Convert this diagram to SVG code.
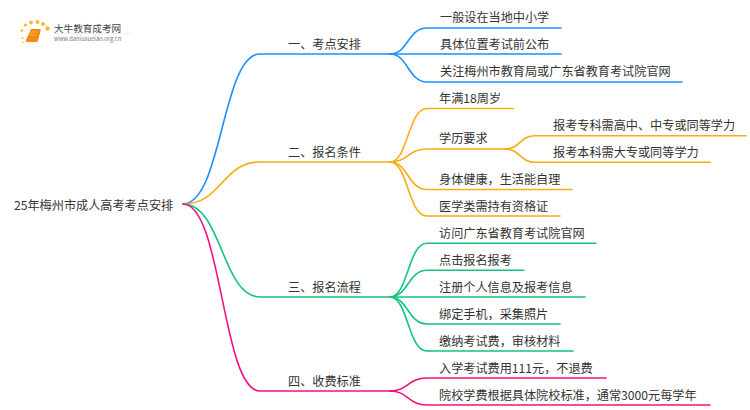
<svg xmlns="http://www.w3.org/2000/svg" width="750" height="410" viewBox="0 0 750 410">
<style>
text{font-family:"Noto Sans CJK SC","Noto Sans",sans-serif;font-size:12.15px;fill:#333}
#connectors path{fill:none;stroke-width:1.6;stroke-linecap:round}
.b{stroke:#1e90ff}.o{stroke:#fbab14}.g{stroke:#14c47c}.p{stroke:#f7107f}
</style>
<rect width="750" height="410" fill="#fff"/>
<g id="logo">
<g fill="#fbb62c"><circle cx="22.500" cy="38" r="1"/><circle cx="22" cy="30.500" r="1.300"/><circle cx="25.500" cy="25" r="1.600"/><circle cx="31" cy="22.500" r="1.900"/><circle cx="37.500" cy="22" r="2"/><circle cx="43" cy="24" r="2"/><circle cx="47.500" cy="28.500" r="2.200"/><circle cx="23.500" cy="42.500" r=".8"/></g>
<path d="M31 29h8.500q1.500 0 1.200 1.500l-2.700 10q-.4 1.500-2 1.500h-8.500q-2 0-1.500-2z" fill="#f18a12"/>
<path d="M30 32h7M29 35h7" stroke="#fcc66a" stroke-width=".7" fill="none"/>
<text x="54" y="31.500" style="font-size:9.600px;fill:#444">大牛教育成考网</text>
<path d="M54 33.500H132" stroke="#e6e6e6" stroke-width=".6"/>
<text x="54" y="41" style="font-size:5.800px;fill:#777">www.daniuxueiao.org.cn</text>
</g>
<g id="connectors">
<path class="b" d="M183 204C222 204 222 54 260 54H390"/>
<path class="o" d="M183 204C222 204 222 162 260 162H390"/>
<path class="g" d="M183 204C222 204 222 297 260 297H390"/>
<path class="p" d="M183 204C222 204 222 391 260 391H390"/>
<path class="b" d="M390 54C408 54 408 28 427 28H561"/>
<path class="b" d="M390 54H561"/>
<path class="b" d="M390 54C408 54 408 82 427 82H682"/>
<path class="o" d="M390 162C408 162 408 108.500 427 108.500H513"/>
<path class="o" d="M390 162C408 162 408 149 427 149H505"/>
<path class="o" d="M505 149C520 149 520 135.700 535 135.700H746"/>
<path class="o" d="M505 149C520 149 520 162.300 535 162.300H710"/>
<path class="o" d="M390 162C408 162 408 189.500 427 189.500H572"/>
<path class="o" d="M390 162C408 162 408 216 427 216H560"/>
<path class="g" d="M390 297C408 297 408 243.300 427 243.300H596"/>
<path class="g" d="M390 297C408 297 408 270.300 427 270.300H524"/>
<path class="g" d="M390 297H585"/>
<path class="g" d="M390 297C408 297 408 324 427 324H560"/>
<path class="g" d="M390 297C408 297 408 351 427 351H573"/>
<path class="p" d="M390 391C408 391 408 378 427 378H606"/>
<path class="p" d="M390 391C408 391 408 405 427 405H710"/>
</g>
<g id="root"><text x="14" y="210">25年梅州市成人高考考点安排</text></g>
<g id="n1"><text x="288" y="49">一、考点安排</text></g>
<g id="n1-1"><text x="440" y="22">一般设在当地中小学</text></g>
<g id="n1-2"><text x="440" y="49">具体位置考试前公布</text></g>
<g id="n1-3"><text x="440" y="76">关注梅州市教育局或广东省教育考试院官网</text></g>
<g id="n2"><text x="288" y="157">二、报名条件</text></g>
<g id="n2-1"><text x="439" y="103">年满18周岁</text></g>
<g id="n2-2"><text x="439" y="143">学历要求</text></g>
<g id="n2-2-1"><text x="553" y="130">报考专科需高中、中专或同等学力</text></g>
<g id="n2-2-2"><text x="553" y="157">报考本科需大专或同等学力</text></g>
<g id="n2-3"><text x="439" y="184">身体健康，生活能自理</text></g>
<g id="n2-4"><text x="439" y="211">医学类需持有资格证</text></g>
<g id="n3"><text x="288" y="292">三、报名流程</text></g>
<g id="n3-1"><text x="439" y="238">访问广东省教育考试院官网</text></g>
<g id="n3-2"><text x="439" y="265">点击报名报考</text></g>
<g id="n3-3"><text x="439" y="292">注册个人信息及报考信息</text></g>
<g id="n3-4"><text x="439" y="319">绑定手机，采集照片</text></g>
<g id="n3-5"><text x="439" y="346">缴纳考试费，审核材料</text></g>
<g id="n4"><text x="288" y="386">四、收费标准</text></g>
<g id="n4-1"><text x="439" y="373">入学考试费用111元，不退费</text></g>
<g id="n4-2"><text x="439" y="400">院校学费根据具体院校标准，通常3000元每学年</text></g>
</svg>
